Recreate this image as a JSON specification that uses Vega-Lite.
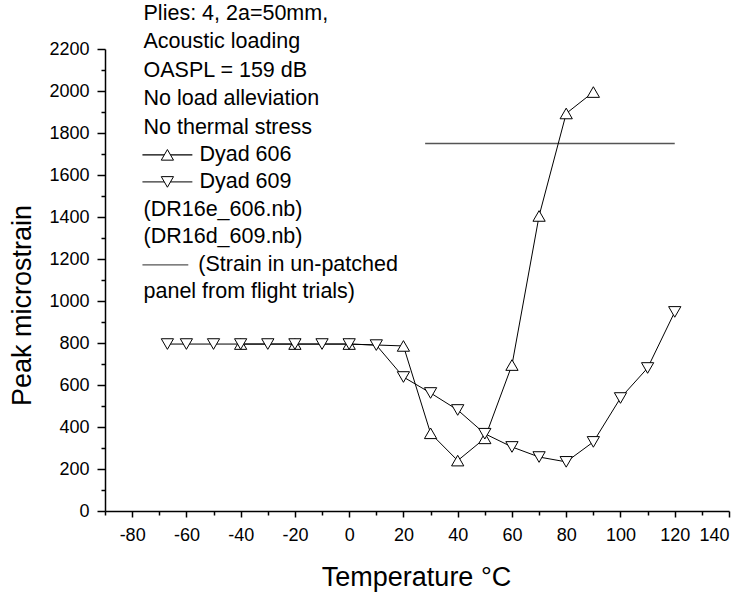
{
  "$schema": "https://vega.github.io/schema/vega-lite/v6.json",
  "width": 624,
  "height": 462,
  "autosize": {"type": "none"},
  "padding": {"left": 105, "top": 49, "right": 18, "bottom": 85},
  "background": "white",
  "config": {
    "view": {"stroke": null},
    "font": "Liberation Sans",
    "axis": {
      "grid": false,
      "domainColor": "black",
      "domainWidth": 1.5,
      "tickColor": "black",
      "tickWidth": 1.5,
      "labelColor": "black",
      "labelFont": "Liberation Sans",
      "labelFontSize": 18,
      "titleFont": "Liberation Sans",
      "titleFontSize": 27,
      "titleFontWeight": "normal",
      "titleColor": "black"
    }
  },
  "datasets": {
    "series": [
      {"series": "Dyad 606", "T": -40, "strain": 795},
      {"series": "Dyad 606", "T": -20, "strain": 795},
      {"series": "Dyad 606", "T": 0, "strain": 795},
      {"series": "Dyad 606", "T": 20, "strain": 786},
      {"series": "Dyad 606", "T": 30, "strain": 370},
      {"series": "Dyad 606", "T": 40, "strain": 240},
      {"series": "Dyad 606", "T": 50, "strain": 346},
      {"series": "Dyad 606", "T": 60, "strain": 695},
      {"series": "Dyad 606", "T": 70, "strain": 1405},
      {"series": "Dyad 606", "T": 80, "strain": 1893},
      {"series": "Dyad 606", "T": 90, "strain": 1995},
      {"series": "Dyad 609", "T": -67, "strain": 795},
      {"series": "Dyad 609", "T": -60, "strain": 795},
      {"series": "Dyad 609", "T": -50, "strain": 795},
      {"series": "Dyad 609", "T": -40, "strain": 795},
      {"series": "Dyad 609", "T": -30, "strain": 795},
      {"series": "Dyad 609", "T": -20, "strain": 795},
      {"series": "Dyad 609", "T": -10, "strain": 795},
      {"series": "Dyad 609", "T": 0, "strain": 795},
      {"series": "Dyad 609", "T": 10, "strain": 790},
      {"series": "Dyad 609", "T": 20, "strain": 638},
      {"series": "Dyad 609", "T": 30, "strain": 562},
      {"series": "Dyad 609", "T": 40, "strain": 481},
      {"series": "Dyad 609", "T": 50, "strain": 368},
      {"series": "Dyad 609", "T": 60, "strain": 305},
      {"series": "Dyad 609", "T": 70, "strain": 257},
      {"series": "Dyad 609", "T": 80, "strain": 234},
      {"series": "Dyad 609", "T": 90, "strain": 329},
      {"series": "Dyad 609", "T": 100, "strain": 538},
      {"series": "Dyad 609", "T": 110, "strain": 681},
      {"series": "Dyad 609", "T": 120, "strain": 948}
    ],
    "flight": [
      {"T": 28, "T2": 120, "strain": 1750}
    ],
    "notes": [
      {"label": "Plies: 4, 2a=50mm,", "T": -75.8, "strain": 2368},
      {"label": "Acoustic loading", "T": -75.8, "strain": 2234},
      {"label": "OASPL = 159 dB", "T": -75.8, "strain": 2096},
      {"label": "No load alleviation", "T": -75.8, "strain": 1963},
      {"label": "No thermal stress", "T": -75.8, "strain": 1825},
      {"label": "Dyad 606", "T": -55.2, "strain": 1696},
      {"label": "Dyad 609", "T": -55.2, "strain": 1567},
      {"label": "(DR16e_606.nb)", "T": -75.8, "strain": 1434},
      {"label": "(DR16d_609.nb)", "T": -75.8, "strain": 1305},
      {"label": "(Strain in un-patched", "T": -55.6, "strain": 1172},
      {"label": "panel from flight trials)", "T": -75.8, "strain": 1043}
    ],
    "keylines": [
      {"key": "Dyad 606", "T": -76.2, "T2": -57.8, "strain": 1696},
      {"key": "Dyad 609", "T": -76.2, "T2": -57.8, "strain": 1567},
      {"key": "flight", "T": -76.2, "T2": -59.3, "strain": 1172}
    ],
    "keysymbols": [
      {"series": "Dyad 606", "T": -67, "strain": 1696},
      {"series": "Dyad 609", "T": -67, "strain": 1567}
    ]
  },
  "layer": [
    {
      "data": {"name": "flight"},
      "mark": {"type": "rule", "color": "#555555", "strokeWidth": 1.5},
      "encoding": {
        "x": {
          "field": "T", "type": "quantitative",
          "scale": {"domain": [-90, 140], "nice": false, "zero": false},
          "axis": {"orient": "bottom", "values": [-90, -70, -50, -30, -10, 10, 30, 50, 70, 90, 110, 130], "labels": false, "domain": false, "tickSize": 4, "title": null}
        },
        "x2": {"field": "T2"},
        "y": {
          "field": "strain", "type": "quantitative",
          "scale": {"domain": [0, 2200], "nice": false},
          "axis": {"orient": "left", "values": [100, 300, 500, 700, 900, 1100, 1300, 1500, 1700, 1900, 2100], "labels": false, "domain": false, "tickSize": 4, "title": null}
        }
      }
    },
    {
      "data": {"name": "series"},
      "mark": {"type": "line", "strokeWidth": 1},
      "encoding": {
        "x": {
          "field": "T", "type": "quantitative",
          "scale": {"domain": [-90, 140], "nice": false, "zero": false},
          "axis": {"orient": "bottom", "values": [-80, -60, -40, -20, 0, 20, 40, 60, 80, 100, 120, 140], "labelExpr": "'' + datum.value", "tickSize": 6, "labelPadding": 9, "title": "Temperature °C", "titleBaseline": "alphabetic", "titleY": 74, "titleX": 311}
        },
        "y": {
          "field": "strain", "type": "quantitative",
          "scale": {"domain": [0, 2200], "nice": false},
          "axis": {"orient": "left", "values": [0, 200, 400, 600, 800, 1000, 1200, 1400, 1600, 1800, 2000, 2200], "labelExpr": "'' + datum.value", "tickSize": 8, "labelPadding": 8, "title": "Peak microstrain", "titleBaseline": "alphabetic", "titleX": -75, "titleY": 256, "titleAngle": -90}
        },
        "detail": {"field": "series"},
        "color": {"value": "black"}
      }
    },
    {
      "data": {"name": "series"},
      "mark": {"type": "point", "filled": false, "fill": "white", "fillOpacity": 1, "stroke": "black", "strokeWidth": 1, "opacity": 1, "size": 150},
      "encoding": {
        "x": {"field": "T", "type": "quantitative", "axis": null},
        "y": {"field": "strain", "type": "quantitative", "axis": null},
        "shape": {"field": "series", "type": "nominal", "scale": {"domain": ["Dyad 606", "Dyad 609"], "range": ["triangle-up", "triangle-down"]}, "legend": null}
      }
    },
    {
      "data": {"name": "keylines"},
      "mark": {"type": "rule", "strokeWidth": 1.2},
      "encoding": {
        "x": {"field": "T", "type": "quantitative", "axis": null},
        "x2": {"field": "T2"},
        "y": {"field": "strain", "type": "quantitative", "axis": null},
        "color": {"field": "key", "type": "nominal", "scale": {"domain": ["Dyad 606", "Dyad 609", "flight"], "range": ["black", "#333333", "#555555"]}, "legend": null}
      }
    },
    {
      "data": {"name": "keysymbols"},
      "mark": {"type": "point", "filled": false, "fill": "white", "fillOpacity": 1, "stroke": "black", "strokeWidth": 1, "opacity": 1, "size": 150},
      "encoding": {
        "x": {"field": "T", "type": "quantitative", "axis": null},
        "y": {"field": "strain", "type": "quantitative", "axis": null},
        "shape": {"field": "series", "type": "nominal", "scale": {"domain": ["Dyad 606", "Dyad 609"], "range": ["triangle-up", "triangle-down"]}, "legend": null}
      }
    },
    {
      "data": {"name": "notes"},
      "mark": {"type": "text", "align": "left", "baseline": "middle", "font": "Liberation Sans", "fontSize": 21.5, "color": "black"},
      "encoding": {
        "x": {"field": "T", "type": "quantitative", "axis": null},
        "y": {"field": "strain", "type": "quantitative", "axis": null},
        "text": {"field": "label"}
      }
    }
  ],
  "resolve": {"axis": {"x": "independent", "y": "independent"}}
}
